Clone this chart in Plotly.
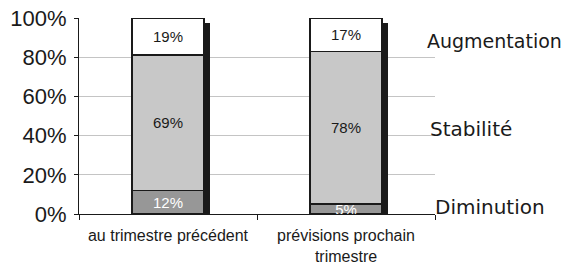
import plotly.graph_objects as go

categories = ["au trimestre précédent", "prévisions prochain<br>trimestre"]
diminution = [12, 5]
stabilite = [69, 78]
augmentation = [19, 17]
series_names = ["Diminution", "Stabilité", "Augmentation"]
y_ticks = [0, 20, 40, 60, 80, 100]
y_tick_labels = ["0%", "20%", "40%", "60%", "80%", "100%"]

totals = [d + s + a for d, s, a in zip(diminution, stabilite, augmentation)]

BAR_W = 0.405
SHADOW_W = 0.036
SHADOW_DROP = 2.5

fig = go.Figure()

# shadow behind the bars (base axes)
fig.add_trace(go.Bar(
    x=categories, y=[t - SHADOW_DROP for t in totals],
    width=SHADOW_W, offset=BAR_W / 2 - 0.004,
    marker=dict(color="#1a1a1a", line=dict(width=0)),
    hoverinfo="skip", showlegend=False, xaxis="x", yaxis="y",
))

fill_colors = ["#979797", "#c8c8c8", "#ffffff"]
text_colors = ["#ffffff", "#1a1a1a", "#1a1a1a"]
for name, vals, fc, tc in zip(series_names, [diminution, stabilite, augmentation], fill_colors, text_colors):
    fig.add_trace(go.Bar(
        x=categories, y=vals, name=name, width=BAR_W,
        marker=dict(color=fc, line=dict(color="#1a1a1a", width=1.5)),
        text=[f"{v}%" for v in vals], textposition="inside",
        insidetextanchor="middle", constraintext="none",
        textfont=dict(family="Liberation Sans, Arial", size=15, color=tc),
        showlegend=False, xaxis="x2", yaxis="y2",
    ))

# page body has an 8px margin, so the figure is 8px smaller and margins shifted
fig.update_layout(
    width=566, height=258,
    margin=dict(l=71, r=139, t=10, b=52),
    paper_bgcolor="white", plot_bgcolor="white",
    barmode="stack",
    xaxis=dict(
        type="category", range=[-0.5, 1.5], automargin=False,
        showgrid=False, showline=True, linecolor="#1a1a1a", linewidth=1,
        ticks="outside", tickson="boundaries", ticklen=5, tickcolor="#1a1a1a",
        ticklabelstandoff=7,
        tickfont=dict(family="Liberation Sans, Arial", size=16, color="#1a1a1a"),
    ),
    yaxis=dict(
        range=[0, 100], tickvals=y_ticks, ticktext=y_tick_labels, automargin=False,
        showgrid=True, gridcolor="#c4c4c4", gridwidth=1,
        showline=True, linecolor="#1a1a1a", linewidth=1,
        ticks="outside", ticklen=4, tickcolor="#1a1a1a", ticklabelstandoff=3,
        ticklabeloverflow="allow",
        tickfont=dict(family="Liberation Sans, Arial", size=22, color="#1a1a1a"),
        zeroline=False,
    ),
    xaxis2=dict(type="category", range=[-0.5, 1.5], overlaying="x",
                visible=False, matches="x"),
    yaxis2=dict(range=[0, 100], overlaying="y", visible=False),
    uniformtext=dict(mode="show", minsize=15),
)

for text, yy, xx, sz in [("Augmentation", 88.3, 0.972, 19), ("Stabilité", 43.5, 0.98, 20),
                         ("Diminution", 3.6, 0.995, 20)]:
    fig.add_annotation(text=text, xref="paper", yref="y", x=xx, y=yy,
                       xanchor="left", yanchor="middle", showarrow=False,
                       font=dict(family="DejaVu Sans", size=sz, color="#1a1a1a"))

fig.write_html("out.html")
